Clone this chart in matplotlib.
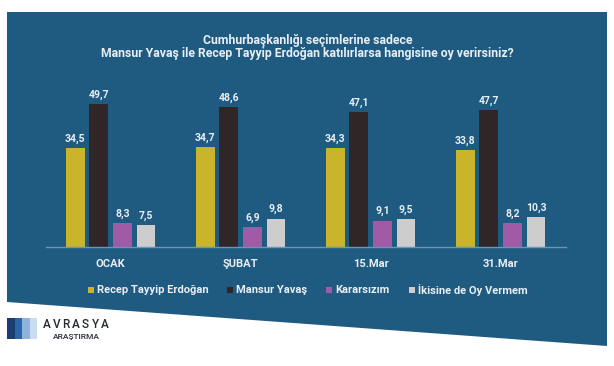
import matplotlib
matplotlib.use("Agg")
import matplotlib.pyplot as plt
from matplotlib.patches import Polygon, Rectangle
import numpy as np

categories = ["OCAK", "ŞUBAT", "15.Mar", "31.Mar"]
series_names = ["Recep Tayyip Erdoğan", "Mansur Yavaş", "Kararsızım", "İkisine de Oy Vermem"]
erdogan = [34.5, 34.7, 34.3, 33.8]
yavas = [49.7, 48.6, 47.1, 47.7]
kararsiz = [8.3, 6.9, 9.1, 8.2]
oy_vermem = [7.5, 9.8, 9.5, 10.3]
series = [erdogan, yavas, kararsiz, oy_vermem]
colors = ["#c9b42c", "#302527", "#a05aa6", "#cdcdcd"]
title_lines = ["Cumhurbaşkanlığı seçimlerine sadece",
               "Mansur Yavaş ile Recep Tayyip Erdoğan katılırlarsa hangisine oy verirsiniz?"]

plt.rcParams['font.family'] = ['Roboto', 'DejaVu Sans']
FONT = dict(family=['Roboto', 'DejaVu Sans'], weight='bold')

W, H = 614, 366
fig = plt.figure(figsize=(W / 100, H / 100), dpi=100)
fig.patch.set_facecolor("white")

def fx(x):
    return x / W

def fy(y):
    return 1 - y / H

bg = "#1f5a80"
panel = Polygon([(fx(7), fy(12)), (fx(607), fy(12)), (fx(607), fy(346)), (fx(7), fy(302))],
                closed=True, transform=fig.transFigure, facecolor=bg, edgecolor="none", zorder=-5)
fig.patches.append(panel)

txt = "#e8eef3"
# title
fig.text(fx(307.5), fy(40.5), title_lines[0], ha="center", va="center", color=txt,
         fontsize=8.8, **FONT)
fig.text(fx(307.5), fy(54), title_lines[1], ha="center", va="center", color=txt,
         fontsize=8.8, **FONT)

# axes
ax_left, ax_right = 45.5, 565.5
base_y = 246.7
ymax = 55
px_per_unit = 2.865
ax_h = ymax * px_per_unit
ax = fig.add_axes([fx(ax_left), fy(base_y), (ax_right - ax_left) / W, ax_h / H], zorder=2)
ax.set_facecolor("none")
ax.patch.set_alpha(0)
ax.set_xlim(-0.5, len(categories) - 0.5)
ax.set_ylim(0, ymax)

x = np.arange(len(categories))
step = 0.182
bw = 0.146
for i, (vals, c) in enumerate(zip(series, colors)):
    pos = x + (i - 1.5) * step
    ax.bar(pos, vals, width=bw, color=c, zorder=2)
    for p, v in zip(pos, vals):
        ax.annotate(f"{v:.1f}".replace(".", ","), (p, v), xytext=(0, 3),
                    textcoords="offset points", ha="center", va="bottom",
                    color=txt, fontsize=7.5, **FONT)

for s in ["top", "right", "left"]:
    ax.spines[s].set_visible(False)
ax.spines["bottom"].set_color("#6e96b3")
ax.spines["bottom"].set_linewidth(1.0)
ax.set_yticks([])
ax.set_xticks(x)
ax.set_xticklabels(categories, color=txt, fontsize=8, **FONT)
ax.tick_params(axis="x", length=0, pad=9)

# legend
leg_x = [88, 226.7, 326, 409]
leg_y = 290
for lx, name, c in zip(leg_x, series_names, colors):
    fig.patches.append(Rectangle((fx(lx), fy(leg_y + 3)), 6 / W, 6 / H,
                                 transform=fig.transFigure, facecolor=c, edgecolor="none", zorder=3))
    fig.text(fx(lx + 9), fy(leg_y), name, ha="left", va="center", color=txt,
             fontsize=8, **FONT)

# logo
logo_cols = ["#1b3d72", "#2d66a8", "#8fb3dc", "#c9dcf0"]
for i, c in enumerate(logo_cols):
    fig.patches.append(Rectangle((fx(7 + i * 7.5), fy(339)), 7.5 / W, 21 / H,
                                 transform=fig.transFigure, facecolor=c, edgecolor="none"))
for i, ch in enumerate("AVRASYA"):
    fig.text(fx(47 + i * 9.6), fy(324), ch, ha="center", va="center", color="#262a33",
             fontsize=8.5, family=['Roboto', 'DejaVu Sans'], weight='medium')
fig.text(fx(53), fy(336.5), "ARAŞTIRMA", ha="left", va="center", color="#262a33",
         fontsize=6, family=['Roboto', 'DejaVu Sans'], weight='medium')

fig.savefig("out.png", dpi=100, facecolor=fig.get_facecolor())
